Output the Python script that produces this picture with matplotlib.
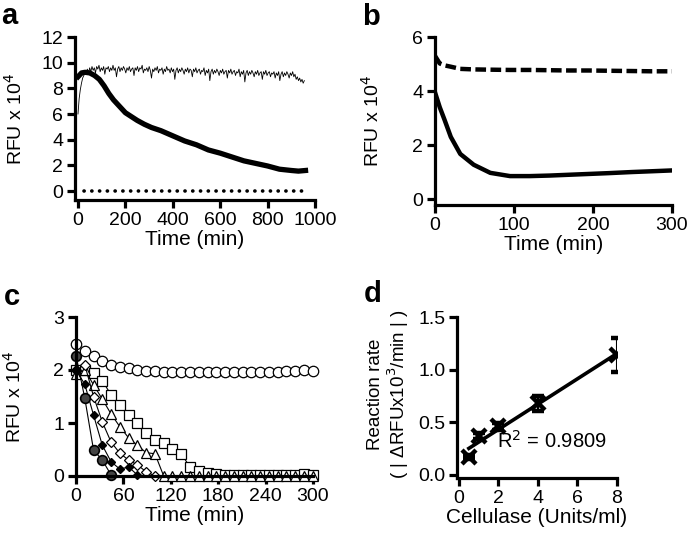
#!/usr/bin/env python3

import numpy as np
import matplotlib
matplotlib.use('Agg')
import matplotlib.pyplot as plt

plt.rcParams['font.family'] = ['Liberation Sans', 'DejaVu Sans']
plt.rcParams['font.size'] = 14

#------------------------------------------------------------------------
# panel a : long time course (RFU x 10^4)

a_noise = [6.0, 7.2, 7.9, 8.4, 8.8, 9.0, 9.3, 9.1, 9.5, 9.2,
           9.6, 9.3, 9.7, 9.4, 9.6, 9.2, 9.7, 9.5, 9.8, 9.3,
           9.6, 9.4, 9.7, 9.1, 9.6, 9.5, 9.7, 9.3, 9.6, 9.4,
           9.8, 9.4, 9.6, 8.9, 9.5, 9.7, 9.3, 9.6, 9.4, 9.7,
           9.5, 9.2, 9.6, 9.4, 9.7, 9.3, 9.5, 9.6, 9.0, 9.6,
           9.4, 9.7, 9.3, 9.6, 9.5, 9.8, 9.2, 9.5, 9.4, 9.6,
           9.3, 9.7, 9.4, 8.8, 9.5, 9.3, 9.6, 9.4, 9.7, 9.2,
           9.5, 9.4, 9.6, 9.1, 9.5, 9.3, 9.7, 9.4, 9.5, 9.2,
           9.6, 9.3, 9.5, 8.7, 9.4, 9.6, 9.2, 9.5, 9.3, 9.6,
           9.4, 9.1, 9.5, 9.3, 9.6, 9.2, 9.5, 9.4, 8.9, 9.5,
           9.3, 9.6, 9.2, 9.4, 9.5, 9.1, 9.4, 9.3, 9.6, 9.0,
           9.4, 9.2, 9.5, 8.6, 9.3, 9.5, 9.1, 9.4, 9.2, 9.5,
           9.3, 9.0, 9.4, 9.2, 9.5, 9.1, 9.3, 9.4, 8.8, 9.4,
           9.2, 9.5, 9.1, 9.3, 9.4, 9.0, 9.3, 9.2, 9.5, 8.9,
           9.3, 9.1, 9.4, 8.5, 9.2, 9.4, 9.0, 9.3, 9.1, 9.4,
           9.2, 8.9, 9.3, 9.1, 9.4, 9.0, 9.2, 9.3, 8.7, 9.3,
           9.1, 9.4, 9.0, 9.2, 9.3, 8.9, 9.2, 9.1, 9.3, 8.8,
           9.2, 9.0, 9.3, 8.6, 9.1, 9.3, 8.9, 9.2, 9.0, 9.3,
           9.1, 8.8, 9.2, 9.0, 9.3, 8.9, 9.1, 8.7, 8.9, 8.6,
           8.8, 8.5, 8.7, 8.4, 8.6]
a_noise_t = np.linspace(0, 955, len(a_noise))

a_decay_t = [0, 15, 30, 50, 70, 90, 110, 130, 150, 175, 200, 225, 250, 280, 310, 350,
             400, 450, 500, 550, 600, 650, 700, 750, 800, 850, 900, 930, 960]
a_decay = [8.9, 9.2, 9.25, 9.2, 9.0, 8.7, 8.2, 7.6, 7.1, 6.6, 6.1, 5.8, 5.5, 5.2, 4.95,
           4.7, 4.3, 3.9, 3.6, 3.2, 2.95, 2.65, 2.35, 2.15, 1.95, 1.7, 1.6, 1.55, 1.6]

a_blank_t = [25, 955]
a_blank = [0.0, 0.0]

# panel b
b_t = [0, 6, 12, 20, 32, 49, 70, 95, 120, 145, 170, 195, 220, 249, 275, 300]
b_solid = [3.95, 3.4, 2.94, 2.3, 1.67, 1.27, 0.97, 0.85, 0.85, 0.87, 0.9, 0.93, 0.96,
           1.0, 1.03, 1.06]
b_dash = [5.3, 5.02, 4.95, 4.9, 4.82, 4.8, 4.79, 4.78, 4.78, 4.77, 4.76, 4.76, 4.75,
          4.74, 4.73, 4.73]

# panel c : sampling every ~11.1 min
c_t = [0, 11.1, 22.2, 33.3, 44.4, 55.5, 66.6, 77.7, 88.8, 99.9, 111.0, 122.1, 133.2,
       144.3, 155.4, 166.5, 177.6, 188.7, 199.8, 210.9, 222.0, 233.1, 244.2, 255.3,
       266.4, 277.5, 288.6, 299.7]
c_open_circle = [2.5, 2.36, 2.26, 2.17, 2.1, 2.06, 2.03, 2.0, 1.99, 1.98, 1.97, 1.97,
                 1.96, 1.96, 1.96, 1.96, 1.96, 1.96, 1.96, 1.96, 1.96, 1.96, 1.97,
                 1.97, 1.98, 1.99, 2.0, 1.99]
c_filled_circle = [2.27, 1.47, 0.49, 0.30, 0.02]
c_black_diamond = [2.0, 1.73, 1.15, 0.58, 0.27, 0.13, 0.17, 0.02]
c_open_diamond = [2.0, 2.1, 1.5, 1.02, 0.64, 0.43, 0.30, 0.21, 0.08, 0.0]
c_triangle = [1.93, 2.0, 1.72, 1.45, 1.17, 0.93, 0.72, 0.58, 0.44, 0.42, 0.0, 0.0, 0.0,
              0.0, 0.0, 0.0, 0.0, 0.0, 0.0, 0.0, 0.0, 0.0, 0.0, 0.0, 0.0, 0.0, 0.0, 0.0]
c_square = [2.0, 2.0, 1.95, 1.8, 1.53, 1.34, 1.15, 1.0, 0.81, 0.68, 0.62, 0.51, 0.42,
            0.17, 0.09, 0.06, 0.04, 0.02, 0.02, 0.02, 0.02, 0.02, 0.02, 0.02, 0.02,
            0.02, 0.03, 0.02]

# panel d
d_conc = [0.5, 1, 2, 4, 8]
d_rate = [0.17, 0.37, 0.46, 0.68, 1.14]
d_err = [0.02, 0.03, 0.03, 0.07, 0.16]
d_r2 = 0.9809

#------------------------------------------------------------------------

W, H = 697, 547

def make_axes(fig, left, right, top, bottom):
    ax = fig.add_axes([left / W, 1 - bottom / H, (right - left) / W, (bottom - top) / H])
    for s in ['top', 'right']:
        ax.spines[s].set_visible(False)
    for s in ['left', 'bottom']:
        ax.spines[s].set_linewidth(2.3)
    ax.tick_params(width=2.3, length=6, pad=2.5, labelsize=14)
    return ax

def label_panel(fig, x, y, letter):
    fig.text(x / W, 1 - y / H, letter, fontsize=21, fontweight='bold', va='center', ha='left')

def main():
    fig = plt.figure(figsize=(W / 100, H / 100), dpi=100)

    # a
    ax = make_axes(fig, 75, 315, 37, 200)
    ax.plot(a_noise_t, a_noise, color='black', lw=0.6)
    ax.plot(a_decay_t, a_decay, color='black', lw=3.8, solid_joinstyle='round')
    ax.plot(a_blank_t, a_blank, color='black', lw=2.6,
            linestyle=(0, (0.05, 2.1)), dash_capstyle='round')
    ax.set_xlim(-12.6, 1000)
    ax.set_ylim(-0.7, 12)
    ax.set_xticks([0, 200, 400, 600, 800, 1000])
    ax.set_yticks([0, 2, 4, 6, 8, 10, 12])
    ax.set_xlabel('Time (min)', fontsize=15, labelpad=1)
    ax.set_ylabel('RFU x 10$^4$')
    ax.yaxis.set_label_coords(-0.204, 0.5)
    label_panel(fig, 1, 16, 'a')

    # b
    ax = make_axes(fig, 435, 672, 37, 205)
    ax.plot(b_t, b_solid, color='black', lw=3.2)
    ax.plot(b_t, b_dash, color='black', lw=3.2, linestyle=(0, (2.4, 1.0)))
    ax.set_xlim(0, 300)
    ax.set_ylim(-0.22, 6)
    ax.set_xticks([0, 100, 200, 300])
    ax.set_yticks([0, 2, 4, 6])
    ax.set_xlabel('Time (min)', fontsize=15, labelpad=1)
    ax.set_ylabel('RFU x 10$^4$')
    ax.yaxis.set_label_coords(-0.22, 0.5)
    label_panel(fig, 362, 17, 'b')

    # c
    ax = make_axes(fig, 76, 313, 317, 476)
    kw = dict(color='black', lw=0.8, mec='black', clip_on=False)
    ax.plot(c_t, c_square, marker='s', ms=7.5, mfc='white', mew=0.9, **kw)
    ax.plot(c_t, c_triangle, marker='^', ms=7.5, mfc='white', mew=0.9, **kw)
    ax.plot(c_t[:len(c_open_diamond)], c_open_diamond, marker='D', ms=5.5, mfc='white', mew=0.9, **kw)
    ax.plot(c_t[:len(c_black_diamond)], c_black_diamond, marker='D', ms=4.5, mfc='black', **kw)
    ax.plot(c_t[:len(c_filled_circle)], c_filled_circle, marker='o', ms=7, mfc='#444444', mew=1.2, **kw)
    ax.plot(c_t, c_open_circle, marker='o', ms=7.5, mfc='white', mew=0.9, ls='none', clip_on=False, color='black')
    ax.set_xlim(0, 300)
    ax.set_ylim(0, 3)
    ax.set_xticks([0, 60, 120, 180, 240, 300])
    ax.set_yticks([0, 1, 2, 3])
    ax.set_xlabel('Time (min)', fontsize=15, labelpad=1)
    ax.set_ylabel('RFU x 10$^4$')
    ax.yaxis.set_label_coords(-0.215, 0.5)
    label_panel(fig, 4, 297, 'c')

    # d
    ax = make_axes(fig, 457, 617, 317, 478)
    slope, icpt = np.polyfit(d_conc, d_rate, 1)
    xf = np.array([min(d_conc), max(d_conc)])
    ax.plot(xf, slope * xf + icpt, color='black', lw=2.6)
    ax.errorbar(d_conc, d_rate, yerr=d_err, fmt='x', color='black', ms=10, mew=3.2,
                elinewidth=1.5, capsize=4, capthick=1.5)
    ax.text(1.95, 0.32, f'R$^2$ = {d_r2}', fontsize=14.5, va='center', ha='left')
    ax.set_xlim(-0.1, 8)
    ax.set_ylim(-0.03, 1.5)
    ax.set_xticks([0, 2, 4, 6, 8])
    ax.set_yticks([0.0, 0.5, 1.0, 1.5])
    ax.set_yticklabels(['0.0', '0.5', '1.0', '1.5'])
    ax.set_xlabel('Cellulase (Units/ml)', fontsize=15, labelpad=1)
    ax.set_ylabel('Reaction rate\n( | \u0394RFUx10$^3$/min | )', fontsize=13.5, linespacing=1.05)
    ax.yaxis.set_label_coords(-0.29, 0.52)
    label_panel(fig, 364, 294, 'd')

    fig.savefig('out.png', dpi=100)

#------------------------------------------------------------------------

if __name__ == "__main__":
    main()
